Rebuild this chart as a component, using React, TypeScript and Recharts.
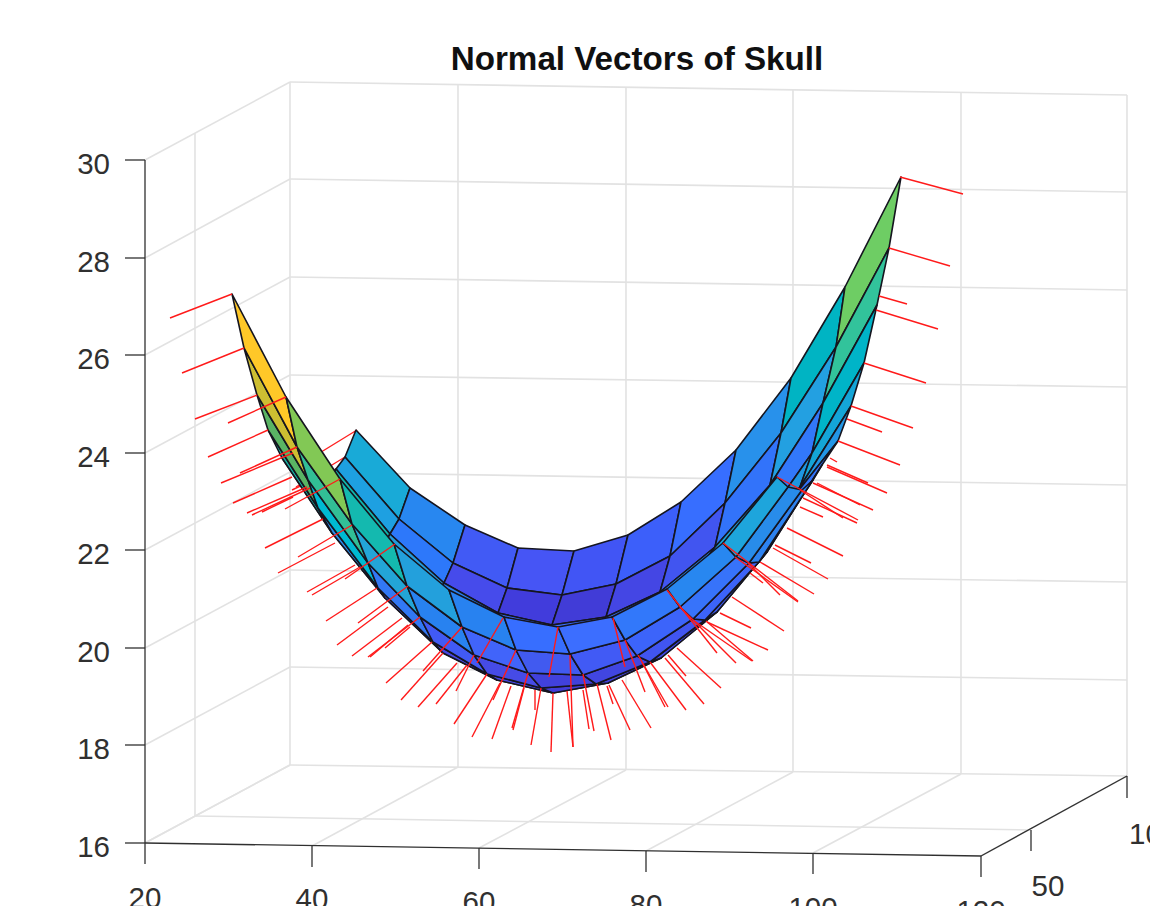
import React from "react";
import { ComposedChart, Scatter, XAxis, YAxis } from "recharts";

const W = 1150;
const H = 906;
const FONT = "'Liberation Sans', Arial, sans-serif";

// Surface vertices (11 rows x 11 columns)
const row0 = [[356,430],[410,488],[465,525],[518,548],[574,551],[628,535],[681,502],[736,450],[791,378],[845,287],[901,177]];
const row1 = [[345,457],[399,519],[453,563],[507,588],[562,595],[616,584],[670,556],[725,503],[781,433],[836,347],[889,248]];
const row2 = [[336,469],[390,534],[444,583],[498,613],[552,625],[606,617],[660,592],[715,547],[770,485],[823,403],[877,305]];
const row3 = [[323,490],[378,555],[431,600],[485,632],[540,645],[594,635],[648,610],[702,565],[758,530],[812,453],[864,363]];
const row4 = [[306,488],[360,555],[416,610],[470,645],[528,665],[582,655],[636,632],[690,590],[746,548],[800,487],[851,406]];
const row5 = [[294,470],[348,545],[402,605],[456,655],[515,680],[572,682],[626,655],[679,615],[733,575],[787,505],[838,441]];
const row6 = [[282,458],[332,533],[385,598],[443,653],[497,680],[553,693],[608,683],[661,658],[717,612],[767,552],[822,465]];
const row7 = [[268,430],[318,508],[378,588],[433,642],[487,674],[541,688],[596,684],[650,662],[705,620],[759,562],[813,480]];
const row8 = [[257,395],[308,480],[368,563],[420,617],[474,655],[528,673],[583,675],[637,656],[693,619],[749,563],[802,490]];
const row9 = [[244,348],[297,447],[352,524],[407,586],[462,627],[516,650],[570,654],[625,640],[680,607],[736,557],[788,487]];
const row10 = [[232,294],[286,397],[340,479],[394,544],[449,590],[504,617],[558,627],[612,617],[667,589],[723,543],[777,477]];

const backRows = [row0, row1, row2, row3, row4, row5];
const frontRows = [row5, row6, row7, row8, row9, row10];

// Patch colours, one list per band of the surface
const backColors = [
  ["#19aad7","#2887f0","#415af5","#4655f5","#4155f5","#3c5ffa","#376eff","#2891eb","#00b4c3","#6ecd64"],
  ["#1ea0e1","#2d78fa","#464beb","#413cdc","#413cd7","#4446e4","#4155f0","#3273fa","#23a0e1","#32c39b"],
  ["#0fb9af","#239bdc","#2882f5","#3c6eff","#3c6eff","#3773fa","#2887f0","#1ea5dc","#3278fa","#00b4c8"],
  ["#2887f0","#2d78fa","#415af5","#4650e6","#4650e6","#4155f0","#3c64fa","#3278fa","#1e96e1","#14a5d7"],
  ["#2d78fa","#3c5ffa","#4650e6","#463cdc","#463cdc","#463cdc","#4650e6","#3c64fa","#2887f0","#2396e6"],
];
const frontColors = [
  ["#1e96e1","#2d78fa","#4650e6","#463cd7","#463cd7","#463cd7","#463cd7","#4650e6","#3c64fa","#3273fa"],
  ["#14b4a5","#288cea","#415af5","#4646e1","#4646e1","#413cd7","#4141dc","#4146e6","#3c5af0","#3273f5"],
  ["#5ab464","#00b9d2","#3278f5","#415af5","#464be6","#4141dc","#4146e1","#4155f0","#3c64fa","#2d82f0"],
  ["#cdbe32","#32be96","#23a5d7","#2882f0","#4164fa","#415af0","#415af5","#3c64fa","#3773fa","#288cea"],
  ["#ffc828","#82c855","#14b9af","#23a0dc","#2882f0","#376eff","#3c6eff","#3278fa","#2887f0","#1ea5dc"],
];

// Red normal vectors [x1, y1, x2, y2]
const hiddenVectors = [
  [357,430,300,465],[345,457,296,487],[336,469,292,490],
];
const normalVectors = [
  [232,294,170,318],[244,348,182,373],[257,395,195,419],[286,397,228,423],[268,430,208,457],
  [297,447,240,473],[293,453,221,483],[340,479,285,509],[292,477,233,503],[307,487,247,513],
  [310,488,252,515],[293,497,262,512],[323,519,265,548],[352,525,298,557],[335,543,278,573],
  [355,565,307,592],[360,567,312,595],[395,544,345,579],[377,588,326,621],[388,607,337,645],
  [408,586,358,623],[402,618,352,656],[420,617,368,657],[408,625,370,657],[410,627,385,648],
  [432,642,386,683],[443,653,401,700],[457,663,418,707],[462,627,423,671],[467,665,436,704],
  [474,655,456,691],[487,674,454,724],[503,618,477,663],[500,683,472,737],[511,686,492,739],
  [516,650,493,700],[528,673,512,728],[524,688,513,730],[541,688,531,745],[535,690,535,710],
  [558,627,549,677],[553,693,551,752],[570,655,573,747],[567,691,573,747],[583,674,594,731],
  [583,690,589,729],[597,684,611,740],[613,618,625,667],[607,686,613,704],[609,685,630,730],
  [625,640,645,692],[638,655,668,707],[642,662,665,707],[650,662,686,710],[667,590,717,653],
  [680,607,736,663],[693,620,752,661],[622,680,651,728],[665,658,704,704],[668,655,686,676],
  [677,648,721,688],[707,622,768,650],[720,613,751,628],[732,597,784,631],[706,621,753,661],
  [723,543,798,601],[735,557,798,602],[748,563,780,595],[750,573,763,583],[760,562,814,594],
  [773,548,828,579],[775,545,811,563],[787,528,843,556],[800,507,823,517],[803,498,857,523],
  [777,477,858,520],[800,490,843,518],[817,483,860,505],[813,483,873,510],[827,465,868,483],
  [827,467,887,493],[830,458,837,462],[838,441,900,465],[847,419,882,432],[851,406,913,428],
  [864,363,926,383],[876,310,938,329],[879,296,907,304],[889,248,950,266],[900,177,963,194],
];

// Box geometry
const zLabels = ["30","28","26","24","22","20","18","16"];
const zFrontY = [160,258,355,453,550,648,745,843];
const zBackY = [82,179,277,375,472,570,667,765];
const zRightY = [95,192,290,387,485,582,680,776];
const xLabels = ["20","40","60","80","100","120"];
const xFront = [[145,843],[312,846],[479,848],[646,851],[813,853],[981,856]];
const xBack = [[290,765],[458,767],[626,770],[793,772],[961,774],[1127,776]];
const xTop = [82,85,87,90,92,95];
const xLabelY = [897,898,901,904,907,910];

const segs = (list: number[][]) =>
  list.map((s) => ({ x: s[0], y: s[1], dx: s[2] - s[0], dy: s[3] - s[1] }));

const gridSegments = segs([
  ...zFrontY.map((y, i) => [145, y, 290, zBackY[i]]),
  ...zBackY.map((y, i) => [290, y, 1127, zRightY[i]]),
  ...xBack.map((p, i) => [p[0], xTop[i], p[0], p[1]]),
  ...xFront.map((p, i) => [p[0], p[1], xBack[i][0], xBack[i][1]]),
  [195, 133, 195, 816],
  [195, 816, 1031, 830],
]);

const axisSegments = segs([
  [145, 160, 145, 843],
  [145, 843, 981, 856],
  [981, 856, 1127, 776],
  ...zFrontY.map((y) => [125, y, 145, y]),
  ...xFront.map((p) => [p[0], p[1], p[0], p[1] + 21]),
  [1031, 830, 1031, 851],
  [1127, 776, 1127, 798],
]);

const patches = (rows: number[][][], colors: string[][]) => {
  const out: { x: number; y: number; off: number[][]; fill: string }[] = [];
  for (let r = 0; r < rows.length - 1; r++) {
    for (let c = 0; c < 10; c++) {
      const pts = [rows[r][c], rows[r][c + 1], rows[r + 1][c + 1], rows[r + 1][c]];
      out.push({
        x: pts[0][0],
        y: pts[0][1],
        off: pts.map((p) => [p[0] - pts[0][0], p[1] - pts[0][1]]),
        fill: colors[r][c],
      });
    }
  }
  return out;
};

const PatchShape = (p: any) => {
  const d = p.payload.off.map((o: number[]) => `${p.cx + o[0]},${p.cy + o[1]}`).join(" ");
  return <polygon points={d} fill={p.payload.fill} stroke="#15151f" strokeWidth={1.6} strokeLinejoin="round" />;
};

const segShape = (stroke: string, width: number) => (p: any) => (
  <line x1={p.cx} y1={p.cy} x2={p.cx + p.payload.dx} y2={p.cy + p.payload.dy} stroke={stroke} strokeWidth={width} />
);

const textShape = (size: number, weight: string, fill: string) => (p: any) => (
  <text x={p.cx} y={p.cy} textAnchor={p.payload.anchor} dominantBaseline="central" fontFamily={FONT} fontSize={size} fontWeight={weight} fill={fill}>
    {p.payload.t}
  </text>
);

const tickTexts = [
  ...zLabels.map((t, i) => ({ t, x: 110, y: zFrontY[i] + 3, anchor: "end" })),
  ...xLabels.map((t, i) => ({ t, x: xFront[i][0], y: xLabelY[i], anchor: "middle" })),
  { t: "50", x: 1048, y: 885, anchor: "middle" },
  { t: "100", x: 1129, y: 833, anchor: "start" },
];
const titleText = [{ t: "Normal Vectors of Skull", x: 637, y: 58, anchor: "middle" }];

export default function App() {
  return (
    <div style={{ position: "absolute", left: 0, top: 0, width: W, height: H, overflow: "hidden", background: "#fff" }}>
      <ComposedChart width={W} height={H} margin={{ top: 0, right: 0, bottom: 0, left: 0 }}>
        <XAxis type="number" dataKey="x" domain={[0, W]} hide allowDataOverflow />
        <YAxis type="number" dataKey="y" domain={[0, H]} reversed hide allowDataOverflow />
        <Scatter data={gridSegments} shape={segShape("#e2e2e2", 1.6)} isAnimationActive={false} />
        <Scatter data={axisSegments} shape={segShape("#303030", 1.3)} isAnimationActive={false} />
        <Scatter data={segs(hiddenVectors)} shape={segShape("#ff2020", 1.4)} isAnimationActive={false} />
        <Scatter data={patches(backRows, backColors)} shape={PatchShape} isAnimationActive={false} />
        <Scatter data={patches(frontRows, frontColors)} shape={PatchShape} isAnimationActive={false} />
        <Scatter data={segs(normalVectors)} shape={segShape("#ff1a1a", 1.4)} isAnimationActive={false} />
        <Scatter data={tickTexts} shape={textShape(29.5, "normal", "#303030")} isAnimationActive={false} />
        <Scatter data={titleText} shape={textShape(33.2, "bold", "#101010")} isAnimationActive={false} />
      </ComposedChart>
    </div>
  );
}
